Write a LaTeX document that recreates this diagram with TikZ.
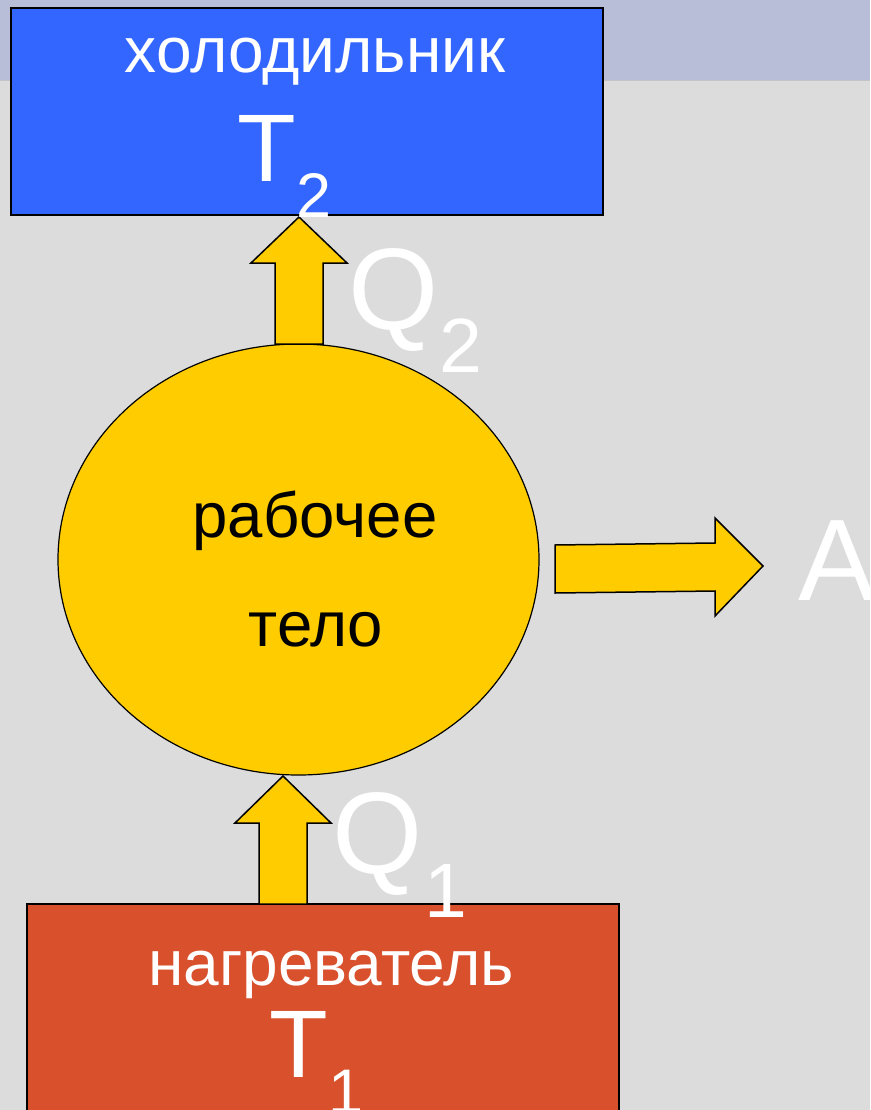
\documentclass[tikz,border=0pt]{standalone}
\usepackage{fontspec}
\setmainfont{Liberation Sans}
\usetikzlibrary{calc,shapes.geometric}
\definecolor{bandcol}{HTML}{B8BDD8}
\definecolor{bgcol}{HTML}{DCDCDC}
\definecolor{bandline}{HTML}{C4C4C8}
\definecolor{coldcol}{HTML}{3366FF}
\definecolor{hotcol}{HTML}{D8502C}
\definecolor{bodycol}{HTML}{FFCC00}
\tikzset{
  box/.style={draw=black, line width=2pt, rectangle, inner sep=0pt},
  blockarrow/.style={draw=black, fill=bodycol, line width=1.5pt, line join=miter},
  lbl/.style={inner sep=0pt, anchor=base, text=white},
  bodytxt/.style={inner sep=0pt, anchor=base, text=black, font=\fontsize{63.5}{74}\selectfont},
  boxtxt/.style={lbl, font=\fontsize{64}{74}\selectfont},
  bigT/.style={lbl, font=\fontsize{96}{110}\selectfont},
  subT/.style={lbl, font=\fontsize{63}{74}\selectfont},
  bigQ/.style={lbl, font=\fontsize{116}{130}\selectfont},
  subQ/.style={lbl, font=\fontsize{77}{90}\selectfont}
}
\begin{document}
\begin{tikzpicture}[x=1pt, y=-1pt]
\useasboundingbox (0,0) rectangle (870,1110);
\clip (0,0) rectangle (870,1110);
% background
\fill[bgcol] (0,0) rectangle (870,1110);
\fill[bandcol] (0,0) rectangle (870,80);
\draw[bandline, line width=1.5pt] (0,80.5) -- (870,80.5);

% boxes
\node[box, fill=coldcol, minimum width=592pt, minimum height=207pt] (cold) at (307,111.5) {};
\node[box, fill=hotcol, minimum width=592pt, minimum height=230pt] (hot) at (323,1019) {};

% working body
\node[draw=black, line width=1.2pt, fill=bodycol, ellipse, minimum width=481pt, minimum height=431pt, inner sep=0pt] (body) at (298.5,559.5) {};

% arrow Q2 (body -> cold)
\coordinate (q2tip) at (299,217);
\coordinate (q2base) at (299,344);
\draw[blockarrow] (q2base) ++(-24,0) -- ++(0,-81) -- ++(-24,0) -- (q2tip) -- ++(48,46) -- ++(-24,0) -- ++(0,81) -- cycle;

% arrow Q1 (hot -> body)
\coordinate (q1tip) at (283,776);
\coordinate (q1base) at (283,904);
\draw[blockarrow] (q1base) ++(-24,0) -- ++(0,-81) -- ++(-24,0) -- (q1tip) -- ++(48,47) -- ++(-24,0) -- ++(0,81) -- cycle;

% arrow A (body -> right)
\coordinate (atip) at (763,566);
\draw[blockarrow] (555,545) -- (715,543) -- (715,518) -- (atip) -- (715,616) -- (715,591) -- (555,593) -- cycle;

% texts
\node[boxtxt] (coldname) at (315,73) {холодильник};
\node[bigT] (T2) at (266.5,182) {T};
\node[subT] (T2s) at (314,217) {2};

\node[boxtxt] (hotname) at (331,985) {нагреватель};
\node[bigT] (T1) at (299,1077) {T};
\node[subT] (T1s) at (346.5,1113) {1};

\node[bodytxt] (w1) at (315,537) {рабочее};
\node[bodytxt] (w2) at (316,646) {тело};

\node[bigQ] (Q2) at (394,329) {Q};
\node[subQ] (Q2s) at (461,372) {2};
\node[bigQ] (Q1) at (378,873) {Q};
\node[subQ] (Q1s) at (446,917) {1};
\node[bigQ] (A) at (837,600) {A};
\end{tikzpicture}
\end{document}
